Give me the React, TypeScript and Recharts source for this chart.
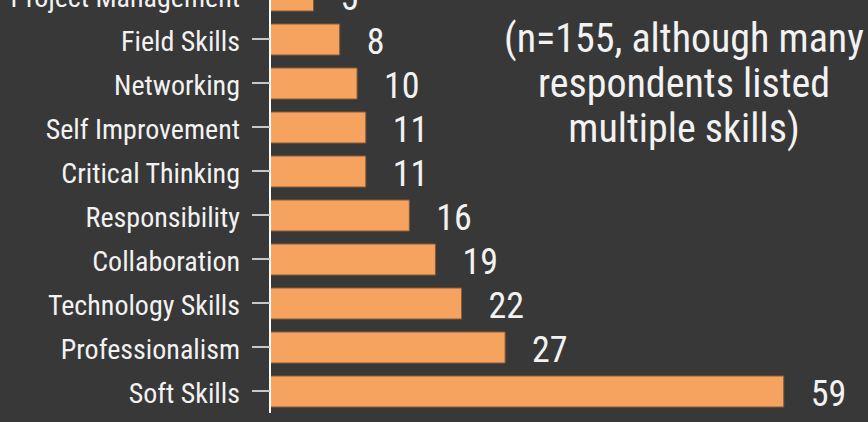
import { BarChart, Bar, XAxis, YAxis, LabelList } from 'recharts';

const skills = [
  'Project Management',
  'Field Skills',
  'Networking',
  'Self Improvement',
  'Critical Thinking',
  'Responsibility',
  'Collaboration',
  'Technology Skills',
  'Professionalism',
  'Soft Skills',
];
const counts = [5, 8, 10, 11, 11, 16, 19, 22, 27, 59];
const noteLines = ['(n=155, although many', 'respondents listed', 'multiple skills)'];

const BG = '#383838';
const BAR = '#f5a35e';
const TEXT = '#f2f2f2';
const FONT = '"Roboto Condensed", Roboto, sans-serif';

const data = skills.map((skill, i) => ({ skill, count: counts[i] }));

// category label, nudged a little below the band centre like the original
function SkillTick(props: any) {
  const { x, y, payload } = props;
  return (
    <text x={x} y={y + 12} textAnchor="end" fill={TEXT} fontSize={28} fontFamily={FONT}>
      {payload.value}
    </text>
  );
}

function CountLabel(props: any) {
  const { x, y, width, height, value } = props;
  return (
    <text
      x={x + width + 27}
      y={y + height / 2 + 14.5}
      fill={TEXT}
      fontSize={36}
      fontFamily={FONT}
    >
      {value}
    </text>
  );
}

export default function App() {
  return (
    <div
      style={{
        position: 'fixed',
        left: 0,
        top: 0,
        width: 868,
        height: 422,
        background: BG,
        overflow: 'hidden',
        fontFamily: FONT,
      }}
    >
      <div style={{ position: 'absolute', left: 0, top: -27 }}>
        <BarChart
          width={868}
          height={440}
          data={data}
          layout="vertical"
          margin={{ top: 0, right: 32, bottom: 0, left: 0 }}
          barCategoryGap={0}
        >
          <XAxis type="number" domain={[0, 65]} hide />
          <YAxis
            type="category"
            dataKey="skill"
            width={270}
            axisLine={{ stroke: '#ffffff', strokeWidth: 2 }}
            tickLine={{ stroke: '#c8c8c8', strokeWidth: 2 }}
            tickSize={18}
            tickMargin={12}
            interval={0}
            tick={<SkillTick />}
          />
          <Bar
            dataKey="count"
            fill={BAR}
            stroke="#8a5a35"
            strokeWidth={1}
            barSize={31}
            isAnimationActive={false}
          >
            <LabelList dataKey="count" content={<CountLabel />} />
          </Bar>
        </BarChart>
      </div>
      <div
        style={{
          position: 'absolute',
          left: 469,
          top: 16,
          width: 430,
          textAlign: 'center',
          color: TEXT,
          fontSize: 40,
          lineHeight: '45px',
        }}
      >
        {noteLines.map((l) => (
          <div key={l}>{l}</div>
        ))}
      </div>
    </div>
  );
}
